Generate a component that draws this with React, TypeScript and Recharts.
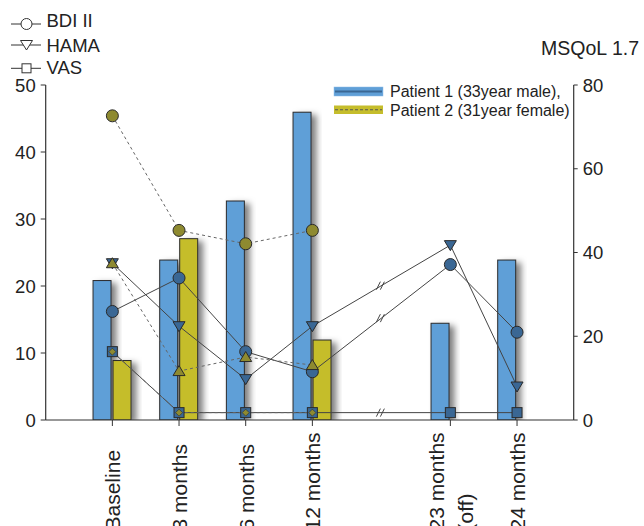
import React from 'react';
import { ComposedChart, Bar, Line, Scatter, XAxis, YAxis } from 'recharts';

// ---- data ----
const xPositions = [0, 1, 2, 3, 5.07, 6.07];
const timeLabels = ['Baseline', '3 months', '6 months', '12 months', '23 months|(off)', '24 months'];
const msqolP1 = [33.3, 38.2, 52.3, 73.5, 23.1, 38.2];
const msqolP2: (number | null)[] = [14.2, 43.3, null, 19.1, null, null];
const bdiP1 = [16.2, 21.2, 10.2, 7.2, 23.2, 13.1];
const hamaP1 = [23.4, 14.0, 6.1, 14.0, 26.1, 5.0];
const vasP1 = [10.2, 1.1, 1.1, 1.1, 1.1, 1.1];
const bdiP2: (number | null)[] = [45.4, 28.3, 26.3, 28.3, null, null];
const hamaP2: (number | null)[] = [23.4, 7.3, 9.4, 8.2, null, null];
const vasP2: (number | null)[] = [10.2, 1.1, 1.1, 1.1, null, null];
const leftTicks = [0, 10, 20, 30, 40, 50];
const rightTicks = [0, 20, 40, 60, 80];
const scoreLegend = ['BDI II', 'HAMA', 'VAS'];
const patientLegend = ['Patient 1 (33year male),', 'Patient 2 (31year female)'];

const rows = xPositions.map((x, i) => ({
  x,
  msqolP1: msqolP1[i],
  msqolP2: msqolP2[i],
  bdiP1: bdiP1[i],
  hamaP1: hamaP1[i],
  vasP1: vasP1[i],
  bdiP2: bdiP2[i],
  hamaP2: hamaP2[i],
  vasP2: vasP2[i],
}));

// break marks at the middle of the gap segment (12 months -> 23 months)
const breakMarks = [bdiP1, hamaP1, vasP1].map((s) => ({
  x: (xPositions[3] + xPositions[4]) / 2,
  y: (s[3] + s[4]) / 2,
}));

const FONT = '"Liberation Sans", Arial, Helvetica, sans-serif';
const BLUE_BAR = '#5f9fd7';
const YELLOW_BAR = '#c5bd2c';
const BLUE_MK = '#3a6794';
const OLIVE_MK = '#8e8a30';
const DARK = '#2a2a2a';

const BarShape = (fill: string) => (p: any) => {
  const { x, y, width, height } = p;
  if (!height || height <= 0 || x == null) return <g />;
  return (
    <rect x={x} y={y} width={width} height={height} fill={fill} stroke={DARK} strokeWidth={1}
      filter="url(#barShadow)" />
  );
};

const marker = (kind: string, fill: string) => (p: any) => {
  const { cx, cy, index } = p;
  if (cx == null || cy == null || Number.isNaN(cy) || p.value == null) return <g key={index} />;
  let el: React.ReactNode = null;
  if (kind === 'circle') el = <circle cx={cx} cy={cy} r={6} fill={fill} stroke={DARK} strokeWidth={1} />;
  if (kind === 'down') el = <path d={`M${cx - 6},${cy - 4.5} L${cx + 6},${cy - 4.5} L${cx},${cy + 5.5} Z`} fill={fill} stroke={DARK} strokeWidth={1} />;
  if (kind === 'up') el = <path d={`M${cx - 6},${cy + 4.5} L${cx + 6},${cy + 4.5} L${cx},${cy - 5.5} Z`} fill={fill} stroke={DARK} strokeWidth={1} />;
  if (kind === 'square') el = <rect x={cx - 5} y={cy - 5} width={10} height={10} fill={fill} stroke={DARK} strokeWidth={1} />;
  if (kind === 'diamond') el = <path d={`M${cx},${cy - 3.5} L${cx + 3.5},${cy} L${cx},${cy + 3.5} L${cx - 3.5},${cy} Z`} fill={fill} stroke={DARK} strokeWidth={0.6} />;
  return <g key={index}>{el}</g>;
};

const BreakShape = (p: any) => {
  const { cx, cy } = p;
  if (cx == null || cy == null) return <g />;
  return (
    <g stroke="#444" strokeWidth={1}>
      <line x1={cx - 5} y1={cy + 4} x2={cx - 1} y2={cy - 4} />
      <line x1={cx - 1} y1={cy + 4} x2={cx + 3} y2={cy - 4} />
    </g>
  );
};

const XTick = (props: any) => {
  const { x, payload } = props;
  const idx = xPositions.findIndex((v) => Math.abs(v - payload.value) < 1e-6);
  const label = idx >= 0 ? timeLabels[idx] : '';
  const lines = label.split('|');
  const offs = lines.length > 1 ? [-6, 23] : [8];
  return (
    <g transform={`translate(${x},530.5) rotate(-90)`}>
      {lines.map((l, i) => (
        <text key={i} x={0} y={offs[i]} textAnchor="start" fontSize={21} fontFamily={FONT} fill="#222">
          {l}
        </text>
      ))}
    </g>
  );
};

const Legends = () => (
  <svg width={644} height={526} style={{ position: 'absolute', left: 0, top: 0, pointerEvents: 'none' }}>
    <defs>
      <filter id="barShadow" x="-60%" y="-10%" width="220%" height="130%">
        <feDropShadow dx="5" dy="3" stdDeviation="3" floodColor="#000" floodOpacity="0.5" />
      </filter>
    </defs>
    {/* score legend */}
    {scoreLegend.map((name, i) => {
      const cy = [24, 45, 68.3][i];
      const by = [27.3, 52.3, 74][i];
      const cx = 26.5;
      return (
        <g key={name}>
          <line x1={11} x2={41} y1={cy} y2={cy} stroke="#333" strokeWidth={1} />
          {i === 0 && <circle cx={cx} cy={cy} r={5.5} fill="#fff" stroke="#333" strokeWidth={1} />}
          {i === 1 && <path d={`M${cx - 6},${cy - 4.5} L${cx + 6},${cy - 4.5} L${cx},${cy + 5} Z`} fill="#fff" stroke="#333" strokeWidth={1} />}
          {i === 2 && <rect x={cx - 4.5} y={cy - 4.5} width={9} height={9} fill="#fff" stroke="#333" strokeWidth={1} />}
          <text x={46.5} y={by} fontSize={18.5} fontFamily={FONT} fill="#222">{name}</text>
        </g>
      );
    })}
    <text x={639} y={55} textAnchor="end" fontSize={19.5} fontFamily={FONT} fill="#222">MSQoL 1.7</text>
    {/* patient legend */}
    <rect x={334} y={87} width={49} height={9} fill={BLUE_BAR} stroke="#8dbbe5" strokeWidth={0.5} />
    <line x1={335} x2={382} y1={91.5} y2={91.5} stroke={BLUE_MK} strokeWidth={2.2} />
    <rect x={334} y={105.5} width={49} height={8.5} fill={YELLOW_BAR} />
    <line x1={335} x2={382} y1={109.7} y2={109.7} stroke="#555" strokeWidth={1.1} strokeDasharray="3 2" />
    <text x={390} y={96.7} fontSize={16} fontFamily={FONT} fill="#222">{patientLegend[0]}</text>
    <text x={390} y={116} fontSize={16} fontFamily={FONT} fill="#222">{patientLegend[1]}</text>
  </svg>
);

export default function App() {
  return (
    <div style={{ position: 'absolute', left: 0, top: 0, width: 644, height: 526, background: '#fff' }}>
      <ComposedChart
        width={644}
        height={526}
        data={rows}
        margin={{ top: 85, right: 30.3, bottom: 6, left: 5.7 }}
        barGap={2}
      >
        <XAxis
          dataKey="x"
          type="number"
          domain={[-1, 6.92]}
          allowDataOverflow
          ticks={xPositions}
          interval={0}
          tickSize={6}
          tick={<XTick />}
          height={100}
          stroke="#333"
          tickLine={{ stroke: '#333' }}
          axisLine={{ stroke: '#333', strokeWidth: 1.2 }}
        />
        <YAxis
          yAxisId="left"
          domain={[0, 50]}
          ticks={leftTicks}
          allowDataOverflow
          width={40}
          tickSize={5}
          tickMargin={5}
          tick={{ fill: '#222', fontSize: 18.5, fontFamily: FONT }}
          axisLine={{ stroke: '#333', strokeWidth: 1.2 }}
          tickLine={{ stroke: '#333' }}
        />
        <YAxis
          yAxisId="right"
          orientation="right"
          domain={[0, 80]}
          ticks={rightTicks}
          allowDataOverflow
          width={40}
          tickSize={4}
          tickMargin={5}
          tick={{ fill: '#222', fontSize: 18.5, fontFamily: FONT }}
          axisLine={{ stroke: '#333', strokeWidth: 1.2 }}
          tickLine={{ stroke: '#333' }}
        />
        <Bar yAxisId="right" dataKey="msqolP1" barSize={18} shape={BarShape(BLUE_BAR)} isAnimationActive={false} />
        <Bar yAxisId="right" dataKey="msqolP2" barSize={18} shape={BarShape(YELLOW_BAR)} isAnimationActive={false} />

        <Line yAxisId="left" dataKey="bdiP1" stroke="#444" strokeWidth={1} dot={marker('circle', BLUE_MK)} activeDot={false} isAnimationActive={false} />
        <Line yAxisId="left" dataKey="hamaP1" stroke="#444" strokeWidth={1} dot={marker('down', BLUE_MK)} activeDot={false} isAnimationActive={false} />
        <Line yAxisId="left" dataKey="vasP1" stroke="#444" strokeWidth={1} dot={marker('square', BLUE_MK)} activeDot={false} isAnimationActive={false} />

        <Line yAxisId="left" dataKey="bdiP2" stroke="#666" strokeWidth={1} strokeDasharray="3 3" dot={marker('circle', OLIVE_MK)} activeDot={false} isAnimationActive={false} />
        <Line yAxisId="left" dataKey="hamaP2" stroke="#666" strokeWidth={1} strokeDasharray="3 3" dot={marker('up', OLIVE_MK)} activeDot={false} isAnimationActive={false} />
        <Line yAxisId="left" dataKey="vasP2" stroke="#666" strokeWidth={1} strokeDasharray="3 3" dot={marker('diamond', OLIVE_MK)} activeDot={false} isAnimationActive={false} />

        <Scatter yAxisId="left" data={breakMarks} dataKey="y" shape={BreakShape} isAnimationActive={false} />
      </ComposedChart>
      <Legends />
    </div>
  );
}
